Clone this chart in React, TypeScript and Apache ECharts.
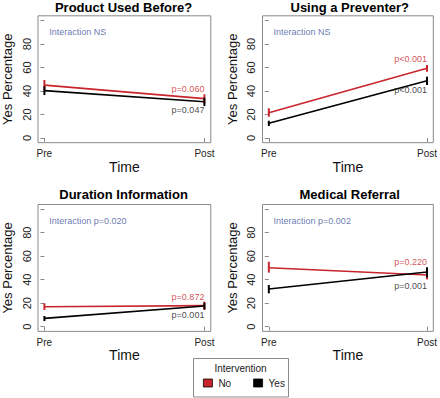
import React, { useEffect, useRef } from "react";
import * as echarts from "echarts";

const categories = ["Pre", "Post"];
const panelTitles = ["Product Used Before?", "Using a Preventer?", "Duration Information", "Medical Referral"];
const interactionTexts = ["Interaction NS", "Interaction NS", "Interaction p=0.020", "Interaction p=0.002"];

const noValues = [[45, 33.5], [21.5, 59.3], [17, 17.9], [50.2, 44]];
const noLow = [[40.9, 29.2], [18.1, 56.4], [14.2, 14.2], [46, 40.3]];
const noHigh = [[49.4, 37.2], [25.3, 62.1], [19.9, 21.3], [55.3, 48.3]];

const yesValues = [[40.3, 30.9], [12.5, 48.8], [7.1, 17.6], [32.1, 46.6]];
const yesLow = [[36.6, 27.2], [10.2, 45.1], [4.8, 14.8], [28.4, 42]];
const yesHigh = [[44, 34.3], [14.7, 52.2], [9.1, 20.4], [35.5, 50.6]];

const pNoTexts = ["p=0.060", "p<0.001", "p=0.872", "p=0.220"];
const pYesTexts = ["p=0.047", "p<0.001", "p=0.001", "p=0.001"];
const pNoY = [42, 67, 25.5, 55.3];
const pYesY = [23.8, 40.9, 10, 34.9];

const yTicks = [0, 20, 40, 60, 80, 100];
const yLabels = [0, 20, 40, 60, 80];
const xTicks = [0, 1];

const RED = "#C8252C";
const BLACK = "#000000";
const BLUE = "#44549A";
const GRAY = "#8a8a8a";
const FONT = "Liberation Sans, Arial, Helvetica, sans-serif";

const gridBoxes = [
  { left: 36.3, top: 15.8 },
  { left: 262.5, top: 15.8 },
  { left: 36.3, top: 204.5 },
  { left: 262.5, top: 204.5 },
];
const GW = 174.5;
const GH = 126.9;

export default function App() {
  const ref = useRef<HTMLDivElement>(null);
  useEffect(() => {
    document.body.style.margin = "0";
    if (!ref.current) return;
    const chart = echarts.init(ref.current, null, { renderer: "svg" });

    const grids: any[] = [];
    const xAxes: any[] = [];
    const yAxes: any[] = [];
    const series: any[] = [];
    const graphics: any[] = [];

    const errRender = (color: string) => (params: any, api: any) => {
      const x = api.value(0);
      const p1 = api.coord([x, api.value(1)]);
      const p2 = api.coord([x, api.value(2)]);
      return {
        type: "line",
        shape: { x1: p1[0], y1: p1[1], x2: p2[0], y2: p2[1] },
        style: { stroke: color, lineWidth: 2 },
      };
    };

    for (let i = 0; i < 4; i++) {
      const g = gridBoxes[i];
      grids.push({
        left: g.left,
        top: g.top,
        width: GW,
        height: GH,
        show: true,
        borderColor: GRAY,
        borderWidth: 1,
        backgroundColor: "transparent",
      });
      xAxes.push({
        type: "value",
        gridIndex: i,
        min: -0.04,
        max: 1.04,
        name: "Time",
        nameLocation: "middle",
        nameGap: 15,
        nameTextStyle: { fontSize: 14, color: "#111", fontFamily: FONT },
        axisLine: { show: false },
        splitLine: { show: false },
        axisTick: { show: true, length: 4, customValues: xTicks, lineStyle: { color: GRAY } },
        axisLabel: {
          show: true,
          customValues: xTicks,
          margin: 6,
          fontSize: 10,
          color: "#222",
          fontFamily: FONT,
          formatter: (v: number) => categories[Math.round(v)],
        },
      });
      yAxes.push({
        type: "value",
        gridIndex: i,
        min: -4,
        max: 104,
        name: "Yes Percentage",
        nameLocation: "middle",
        nameGap: 24,
        nameTextStyle: { fontSize: 13, color: "#111", fontFamily: FONT },
        axisLine: { show: false },
        splitLine: { show: false },
        axisTick: { show: true, length: 4, customValues: yTicks, lineStyle: { color: GRAY } },
        axisLabel: {
          show: true,
          customValues: yLabels,
          rotate: 90,
          margin: 6,
          fontSize: 11,
          color: "#222",
          fontFamily: FONT,
        },
      });

      series.push({
        name: "No",
        type: "line",
        xAxisIndex: i,
        yAxisIndex: i,
        data: noValues[i].map((v, k) => [xTicks[k], v]),
        symbol: "none",
        lineStyle: { color: RED, width: 1.6 },
        itemStyle: { color: RED },
        z: 3,
      });
      series.push({
        name: "Yes",
        type: "line",
        xAxisIndex: i,
        yAxisIndex: i,
        data: yesValues[i].map((v, k) => [xTicks[k], v]),
        symbol: "none",
        lineStyle: { color: BLACK, width: 1.6 },
        itemStyle: { color: BLACK },
        z: 3,
      });
      series.push({
        type: "custom",
        xAxisIndex: i,
        yAxisIndex: i,
        renderItem: errRender(RED),
        data: noLow[i].map((lo, k) => [xTicks[k], lo, noHigh[i][k]]),
        z: 4,
      });
      series.push({
        type: "custom",
        xAxisIndex: i,
        yAxisIndex: i,
        renderItem: errRender(BLACK),
        data: yesLow[i].map((lo, k) => [xTicks[k], lo, yesHigh[i][k]]),
        z: 4,
      });
      series.push({
        type: "scatter",
        xAxisIndex: i,
        yAxisIndex: i,
        symbolSize: 0,
        silent: true,
        data: [
          { value: [1, pNoY[i]], label: { formatter: pNoTexts[i], color: RED } },
          { value: [1, pYesY[i]], label: { formatter: pYesTexts[i], color: "#111" } },
        ],
        label: { show: true, position: "left", distance: 0, fontSize: 9, fontFamily: FONT },
        z: 5,
      });
      series.push({
        type: "scatter",
        xAxisIndex: i,
        yAxisIndex: i,
        symbolSize: 0,
        silent: true,
        data: [{ value: [0.03, 90], label: { formatter: interactionTexts[i] } }],
        label: { show: true, position: "right", distance: 0, fontSize: 9, color: BLUE, fontFamily: FONT },
        z: 5,
      });

      graphics.push({
        type: "text",
        x: g.left + GW / 2,
        y: i < 2 ? 7.5 : g.top - 10.5,
        style: {
          text: panelTitles[i],
          fontSize: 13,
          fontWeight: "bold",
          fontFamily: FONT,
          fill: "#000",
          textAlign: "center",
          textVerticalAlign: "middle",
        },
      });
    }

    graphics.push({
      type: "rect",
      shape: { x: 193.5, y: 358.5, width: 95, height: 38.5 },
      style: { fill: "#fff", stroke: GRAY, lineWidth: 1 },
      z: 0,
    });
    graphics.push({
      type: "text",
      x: 240.5,
      y: 368,
      style: {
        text: "Intervention",
        fontSize: 10,
        fontFamily: FONT,
        fill: "#222",
        textAlign: "center",
        textVerticalAlign: "middle",
      },
      z: 1,
    });

    chart.setOption({
      animation: false,
      grid: grids,
      xAxis: xAxes,
      yAxis: yAxes,
      series,
      graphic: { elements: graphics },
      legend: {
        data: [
          { name: "No", itemStyle: { color: RED, borderColor: "#000", borderWidth: 0.8 } },
          { name: "Yes", itemStyle: { color: BLACK, borderColor: "#000", borderWidth: 0.8 } },
        ],
        icon: "rect",
        itemWidth: 9,
        itemHeight: 8,
        itemGap: 22,
        left: 203,
        top: 378,
        padding: 0,
        selectedMode: false,
        textStyle: { fontSize: 10, color: "#222", fontFamily: FONT, padding: [0, 0, 0, 1] },
        z: 10,
      },
    });

    return () => chart.dispose();
  }, []);

  return <div ref={ref} style={{ width: 440, height: 398 }} />;
}
